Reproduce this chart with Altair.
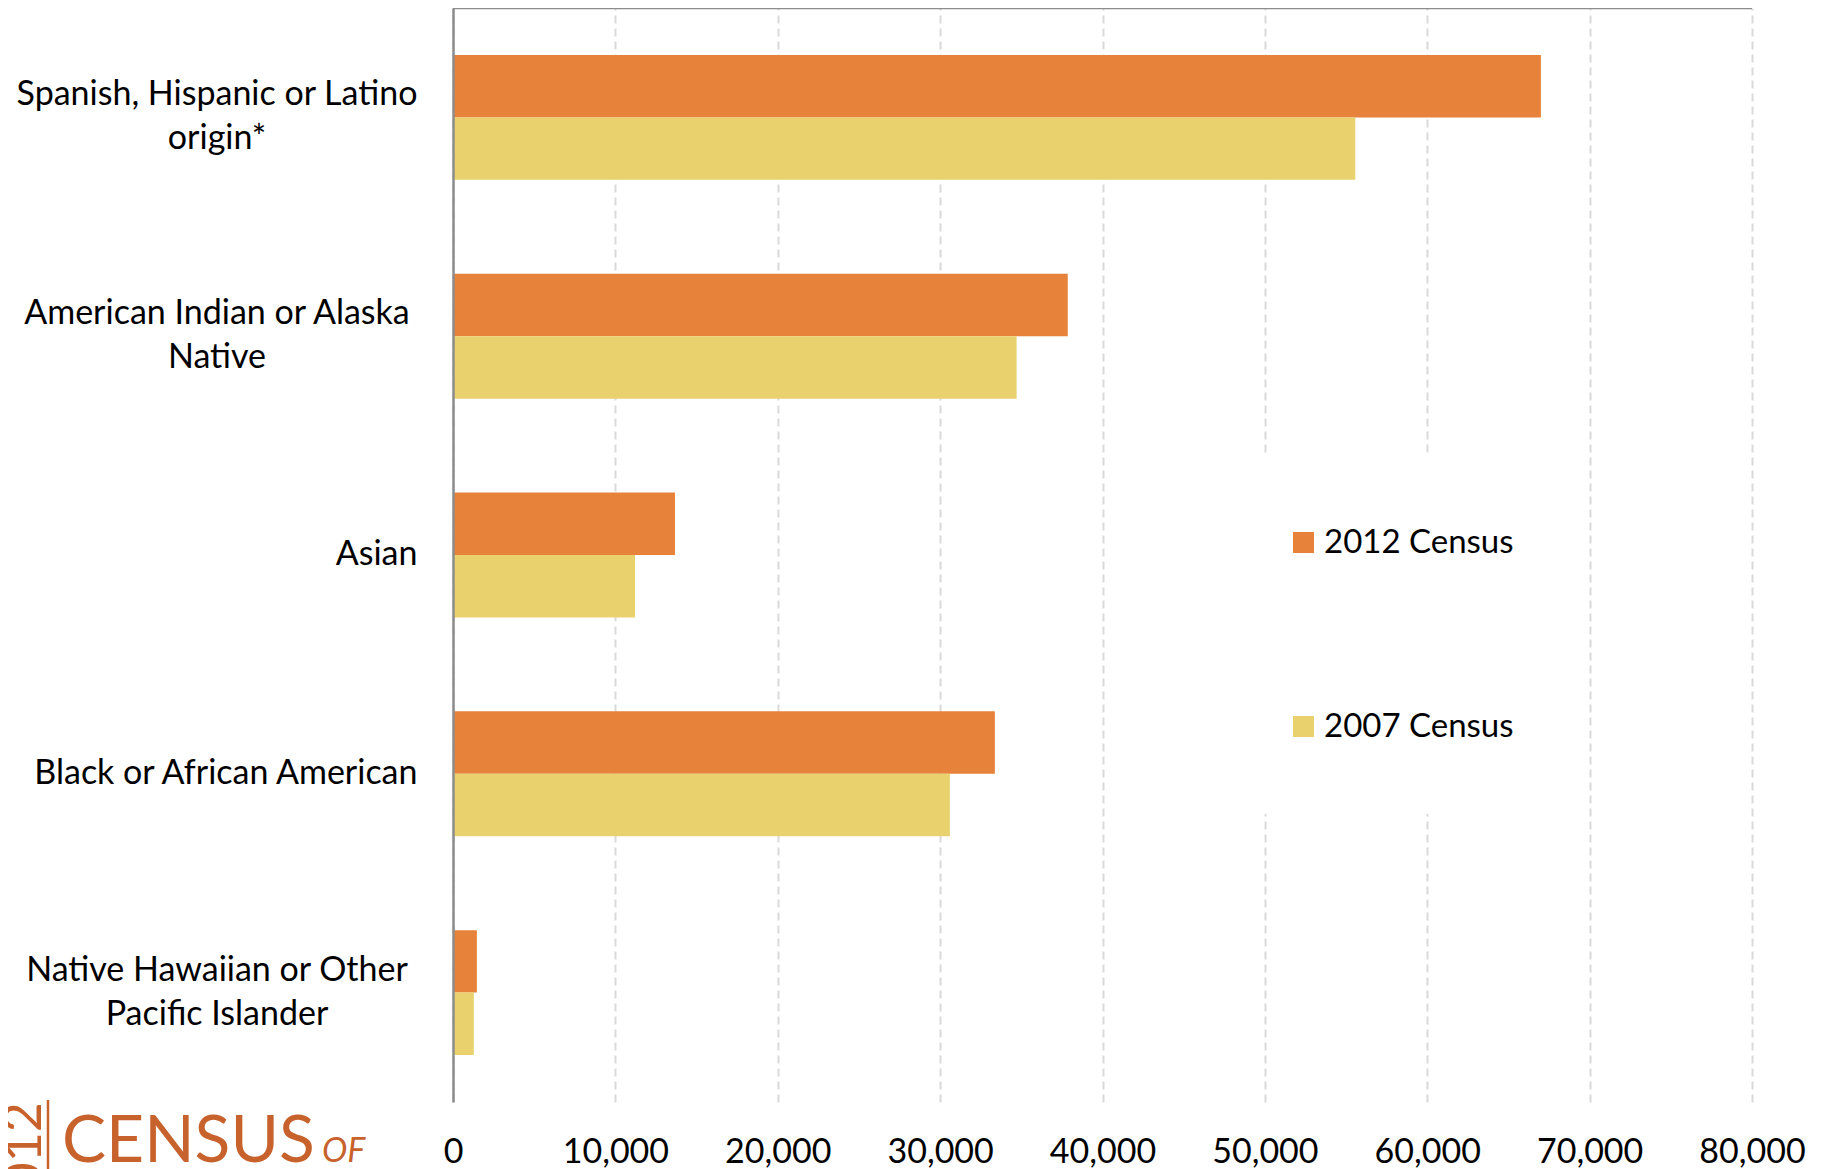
import altair as alt
import pandas as pd

# ---- data ----
categories = [
    "Spanish, Hispanic or Latino origin*",
    "American Indian or Alaska Native",
    "Asian",
    "Black or African American",
    "Native Hawaiian or Other Pacific Islander",
]
label_lines = [
    ["Spanish, Hispanic or Latino", "origin*"],
    ["American Indian or Alaska", "Native"],
    ["Asian"],
    ["Black or African American"],
    ["Native Hawaiian or Other", "Pacific Islander"],
]
census_2012 = [67000, 37860, 13670, 33370, 1470]
census_2007 = [55570, 34710, 11210, 30600, 1280]
series = ["2012 Census", "2007 Census"]
series_colors = ["#E6823A", "#E9D26D"]
x_ticks = [0, 10000, 20000, 30000, 40000, 50000, 60000, 70000, 80000]

rows = []
for c, a, b in zip(categories, census_2012, census_2007):
    rows.append({"category": c, "series": series[0], "value": a})
    rows.append({"category": c, "series": series[1], "value": b})
bars_df = pd.DataFrame(rows)

multi_df = pd.DataFrame(
    [{"category": c, "label": "\n".join(l)} for c, l in zip(categories, label_lines) if len(l) > 1]
)
single = [c for c, l in zip(categories, label_lines) if len(l) == 1]
single_expr = "indexof([" + ",".join("'" + s + "'" for s in single) + "], datum.value) >= 0 ? datum.value : ''"

FONT = "Lato"
FS = 34
LEG_FS = 33
W, H = 1299, 1094
AXIS_GRAY = "#8c8c8c"
LOGO = "#C8622C"

y_enc = alt.Y(
    "category:N",
    sort=categories,
    scale=alt.Scale(paddingInner=0.429, paddingOuter=0.2145),
    axis=alt.Axis(
        title=None, ticks=False, domain=True, domainColor=AXIS_GRAY, domainWidth=2.5,
        grid=False, labelExpr=single_expr, labelAlign="right", labelBaseline="middle",
        labelPadding=36, labelFont=FONT, labelFontSize=FS, labelColor="black",
        labelLimit=600, zindex=1,
    ),
)
x_enc = alt.X(
    "value:Q",
    scale=alt.Scale(domain=[0, 80000], nice=False, zero=True),
    axis=alt.Axis(
        title=None, values=x_ticks, format=",d", domain=False, ticks=False, tickSize=0,
        labelPadding=33, labelFont=FONT, labelFontSize=FS, labelColor="black",
        labelFlush=False, labelOverlap=False,
        grid=True, gridColor="#d9d9d9", gridDash=[8, 5], gridWidth=2, zindex=0,
    ),
)

bars = alt.Chart(bars_df).mark_bar().encode(
    x=x_enc,
    y=y_enc,
    yOffset=alt.YOffset("series:N", sort=series, scale=alt.Scale(paddingInner=0, paddingOuter=0)),
    color=alt.Color(
        "series:N", sort=series,
        scale=alt.Scale(domain=series, range=series_colors),
        legend=alt.Legend(
            title=None, orient="none", legendX=764, legendY=448, direction="vertical",
            symbolType="square", symbolSize=441, symbolStrokeWidth=0,
            labelFont=FONT, labelFontSize=LEG_FS, labelColor="black", labelOffset=4,
            labelLimit=400, rowPadding=150, padding=70, fillColor="white",
        ),
    ),
)

top_rule = alt.Chart(pd.DataFrame({"k": [0]})).mark_rule(color=AXIS_GRAY, strokeWidth=2.5).encode(
    x=alt.datum(0), x2=alt.datum(80000), y=alt.value(0)
)

multi_labels = alt.Chart(multi_df).mark_text(
    align="center", baseline="middle", lineBreak="\n", lineHeight=44, dy=-22,
    font=FONT, fontSize=FS, color="black",
).encode(
    y=alt.Y("category:N", sort=categories),
    x=alt.value(-236),
    text="label:N",
)

one = pd.DataFrame({"k": [0]})
logo_census = alt.Chart(one).mark_text(
    text="CENSUS", align="left", baseline="alphabetic", font=FONT, fontSize=66,
    color=LOGO,
).encode(x=alt.value(-391), y=alt.value(1154))
logo_of = alt.Chart(one).mark_text(
    text="OF", align="left", baseline="alphabetic", font=FONT, fontSize=34,
    fontStyle="italic", color=LOGO,
).encode(x=alt.value(-131), y=alt.value(1154))
logo_bar = alt.Chart(one).mark_rule(color=LOGO, strokeWidth=2.5).encode(
    x=alt.value(-405), y=alt.value(1092), y2=alt.value(1175)
)
logo_year = alt.Chart(one).mark_text(
    text="2012", align="right", baseline="middle", angle=270, font=FONT, fontSize=52,
    color=LOGO,
).encode(x=alt.value(-428), y=alt.value(1094))

chart = alt.layer(
    bars, top_rule, multi_labels, logo_census, logo_of, logo_bar, logo_year
).properties(
    width=W, height=H,
    autosize=alt.AutoSizeParams(type="none"),
    padding={"left": 445, "top": 0, "right": 65, "bottom": 71},
    background="white",
).configure_view(strokeWidth=0)

chart.save("out.html", embed_options={"renderer": "svg", "actions": False})
